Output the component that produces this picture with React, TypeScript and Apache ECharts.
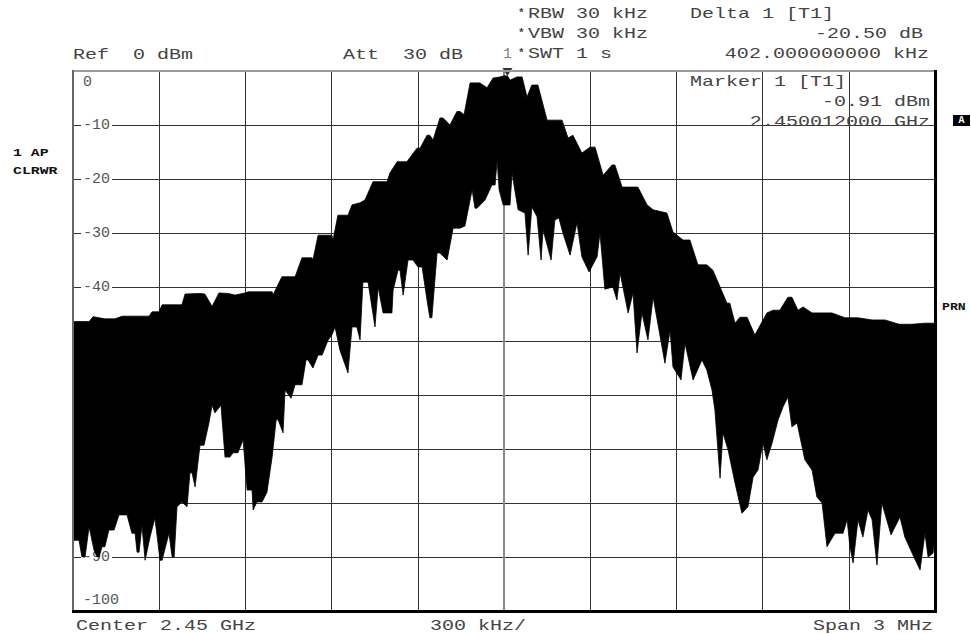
import React, { useEffect, useRef } from "react";
import * as echarts from "echarts";

// Spectrum envelope: frequency offset from 2.45 GHz (kHz) and level (dBm)
const upperFreq = [
  -1500, -1490, -1444, -1430, -1389, -1354, -1329, -1235, -1225, -1201, -1190, -1121, -1110, -1058, -1041, -1016,
  -992, -960, -936, -901, -891, -807, -804, -773, -727, -703, -668, -665, -647, -599, -595, -578, -543, -529, -501,
  -484, -456, -407, -397, -372, -338, -303, -292, -268, -258, -247, -223, -212, -188, -164, -153, -139, -118, -84,
  -59, -38, -14, 0, 12, 21, 45, 63, 80, 97, 118, 150, 202, 223, 240, 271, 299, 317, 345, 376, 386, 411, 466, 498,
  519, 567, 588, 623, 647, 675, 706, 727, 752, 776, 786, 804, 821, 846, 873, 915, 936, 960, 988, 1002, 1023, 1041,
  1072, 1141, 1187, 1232, 1281, 1326, 1375, 1420, 1465, 1500,
];
const upperLevel = [
  -46.4, -46.4, -46.4, -45.5, -45.9, -45.9, -45.4, -45.4, -44.6, -44.6, -43.3, -43.3, -41.3, -41.2, -41.3, -43.6,
  -41.1, -41.2, -41.5, -41.1, -40.9, -40.9, -41.5, -38.1, -38.1, -34.6, -34.6, -35.0, -30.4, -30.4, -31.3, -26.7,
  -26.7, -24.8, -24.4, -23.9, -20.5, -20.5, -18.9, -16.8, -16.8, -14.3, -14.3, -11.9, -11.9, -12.8, -8.7, -8.7,
  -10.0, -7.5, -7.5, -8.1, -2.2, -2.2, -3.1, -1.3, -1.1, -0.9, -0.91, -1.7, -1.1, -1.1, -4.8, -2.6, -2.6, -9.1,
  -9.1, -12.4, -11.9, -15.2, -14.1, -14.1, -19.3, -17.4, -17.4, -21.5, -21.5, -24.8, -25.7, -26.3, -29.8, -31.3,
  -31.3, -35.9, -35.9, -36.9, -40.0, -43.0, -43.0, -46.7, -45.6, -45.6, -48.9, -44.8, -44.3, -44.3, -41.9, -41.9,
  -44.3, -43.7, -44.8, -44.8, -45.7, -45.7, -46.1, -46.1, -46.9, -46.9, -46.7, -46.7,
];
const lowerFreq = [
  -1500, -1479, -1469, -1458, -1444, -1427, -1416, -1409, -1399, -1389, -1375, -1357, -1340, -1312, -1295, -1284,
  -1277, -1270, -1260, -1249, -1232, -1215, -1197, -1190, -1166, -1155, -1148, -1138, -1121, -1103, -1093, -1086,
  -1075, -1058, -1044, -1027, -1016, -1006, -985, -971, -954, -943, -926, -908, -894, -877, -873, -860, -842, -825,
  -807, -793, -786, -769, -762, -741, -727, -703, -689, -682, -665, -647, -633, -612, -599, -588, -571, -543, -529,
  -512, -501, -491, -473, -449, -438, -421, -390, -386, -369, -362, -351, -334, -317, -299, -285, -268, -258, -251,
  -233, -223, -198, -177, -153, -136, -111, -101, -94, -66, -42, -31, -24, -17, -3, 21, 28, 49, 73, 84, 97, 115,
  129, 136, 164, 177, 191, 205, 230, 254, 271, 296, 324, 334, 351, 379, 393, 404, 432, 449, 463, 480, 501, 519, 560,
  578, 588, 616, 630, 658, 689, 706, 724, 734, 752, 762, 780, 804, 828, 849, 867, 884, 901, 915, 933, 954, 971, 988,
  1002, 1020, 1047, 1072, 1089, 1107, 1124, 1152, 1180, 1194, 1204, 1215, 1232, 1249, 1267, 1281, 1298, 1315, 1347,
  1378, 1395, 1423, 1448, 1465, 1476, 1493, 1500,
];
const lowerLevel = [
  -86.9, -86.9, -90.0, -90.0, -84.4, -88.7, -90.0, -90.0, -88.1, -88.1, -85.0, -85.0, -82.2, -82.2, -85.6, -85.6,
  -89.1, -89.1, -84.1, -90.6, -86.3, -82.8, -90.6, -90.6, -85.6, -90.0, -90.0, -80.7, -79.8, -80.7, -74.4, -74.4,
  -77.0, -69.3, -69.3, -65.2, -61.9, -63.3, -61.9, -71.5, -71.5, -70.7, -70.7, -68.3, -77.6, -77.6, -81.3, -79.8,
  -79.8, -78.0, -71.5, -64.6, -64.6, -67.0, -59.1, -60.6, -58.1, -58.1, -53.5, -53.5, -55.0, -52.6, -52.6, -49.8,
  -48.9, -47.4, -51.7, -55.9, -47.4, -47.4, -49.8, -39.1, -39.1, -47.4, -40.0, -44.8, -44.8, -40.6, -36.9, -36.9,
  -41.5, -35.0, -35.0, -36.3, -36.3, -42.4, -45.7, -45.7, -33.7, -33.7, -35.0, -29.1, -29.1, -28.7, -22.0, -25.4,
  -25.4, -23.9, -21.1, -21.1, -16.5, -22.0, -24.8, -24.8, -18.9, -25.7, -26.3, -34.1, -25.2, -27.0, -35.0, -29.4,
  -35.0, -27.6, -27.2, -30.0, -34.1, -28.1, -34.4, -37.2, -34.4, -30.0, -40.4, -40.0, -42.4, -37.4, -44.8, -41.1,
  -52.2, -44.8, -49.8, -41.9, -54.1, -48.0, -54.8, -57.2, -50.4, -57.2, -53.5, -55.4, -59.1, -62.8, -75.4, -67.0,
  -70.2, -76.3, -81.9, -80.7, -75.2, -73.9, -68.9, -72.0, -68.9, -64.6, -62.2, -60.4, -65.9, -65.2, -72.0, -73.9,
  -78.9, -80.0, -88.1, -85.6, -85.6, -83.1, -88.1, -91.1, -83.1, -86.3, -81.3, -83.1, -91.5, -80.0, -85.9, -82.6,
  -86.3, -89.6, -92.4, -85.6, -90.0, -89.3, -86.3,
];

// Markers
const markerFreq = [12, 402];
const markerLevel = [-0.91, -21.41];
const markerNames = ["1", "1"];

// Axes
const freqMin = -1500;
const freqMax = 1500;
const freqStep = 300;
const levelMin = -100;
const levelMax = 0;
const levelStep = 10;

const FONT = '"Liberation Mono", "DejaVu Sans Mono", monospace';

function txt(text: string, x: number, y: number, align = "left", opts: any = {}) {
  return {
    type: "text",
    x,
    y,
    scaleX: opts.scaleX ?? 1.43,
    z: 100,
    silent: true,
    style: {
      text,
      fill: opts.fill ?? "#444",
      font: opts.font ?? `14px ${FONT}`,
      textAlign: align,
      textVerticalAlign: "middle",
    },
  };
}

function line(x1: number, y1: number, x2: number, y2: number, color: string, w: number) {
  return {
    type: "line",
    z: 90,
    silent: true,
    shape: { x1, y1, x2, y2 },
    style: { stroke: color, lineWidth: w },
  };
}

export default function App() {
  const ref = useRef<HTMLDivElement>(null);
  useEffect(() => {
    if (!ref.current) return;
    const chart = echarts.init(ref.current, null, { renderer: "svg" });
    const boldSmall = `bold 11px ${FONT}`;
    const option: any = {
      animation: false,
      backgroundColor: "#fff",
      grid: { left: 73, top: 71, width: 862, height: 540, show: false },
      xAxis: {
        type: "value",
        min: freqMin,
        max: freqMax,
        interval: freqStep,
        axisLine: { show: false },
        axisTick: { show: false },
        axisLabel: { show: false },
        splitLine: { show: true, lineStyle: { color: "#333", width: 1 } },
      },
      yAxis: [
        {
          type: "value",
          min: levelMin,
          max: levelMax,
          interval: levelStep,
          z: 0,
          axisLine: { show: false },
          axisTick: { show: false },
          axisLabel: { show: false },
          splitLine: { show: true, lineStyle: { color: "#333", width: 1 } },
        },
        {
          type: "value",
          min: levelMin,
          max: levelMax,
          interval: levelStep,
          position: "left",
          z: 1,
          axisLine: { show: false },
          axisTick: { show: false },
          splitLine: { show: false },
          axisLabel: {
            inside: true,
            margin: 8,
            color: "#555",
            fontFamily: FONT,
            fontSize: 15,
            lineHeight: 22,
            backgroundColor: "#fff",
            padding: [0, 2, 0, 2],
            verticalAlignMaxLabel: "top",
            verticalAlignMinLabel: "bottom",
            formatter: (v: number) => String(v),
          },
        },
      ],
      series: [
        {
          type: "line",
          data: [],
          z: 1,
          silent: true,
          markLine: {
            silent: true,
            z: 1,
            symbol: "none",
            label: { show: false },
            lineStyle: { color: "#888", width: 2, type: "solid" },
            data: [{ xAxis: 0 }],
          },
        },
        {
          type: "custom",
          coordinateSystem: "cartesian2d",
          xAxisIndex: 0,
          yAxisIndex: 0,
          z: 3,
          silent: true,
          clip: true,
          data: [[0, 0]],
          renderItem: (_params: any, api: any) => {
            const pts: number[][] = [];
            for (let i = 0; i < upperFreq.length; i++) pts.push(api.coord([upperFreq[i], upperLevel[i]]));
            for (let i = lowerFreq.length - 1; i >= 0; i--) pts.push(api.coord([lowerFreq[i], lowerLevel[i]]));
            return {
              type: "polygon",
              shape: { points: pts },
              style: { fill: "#000", stroke: "#000", lineWidth: 0.8 },
            };
          },
        },
        {
          type: "scatter",
          z: 5,
          silent: true,
          data: [
            {
              value: [markerFreq[0], markerLevel[0]],
              name: markerNames[0],
              symbol: "triangle",
              symbolRotate: 180,
              symbolSize: [10, 8],
              symbolOffset: [0, -4],
              itemStyle: { color: "#000" },
              label: { show: true, position: "top", distance: 7, formatter: markerNames[0] },
            },
            {
              value: [markerFreq[1], markerLevel[1]],
              name: markerNames[1],
              symbolSize: 2,
              itemStyle: { color: "#000", opacity: 0 },
              label: { show: true, position: "inside", offset: [4, -15], formatter: markerNames[1] },
            },
          ],
          label: { color: "#555", fontFamily: FONT, fontSize: 14 },
        },
      ],
      graphic: {
        elements: [
          // frame
          line(72, 71, 936, 71, "#9a9a9a", 2),
          line(73, 70, 73, 612, "#666", 2),
          line(72, 611.5, 937, 611.5, "#000", 3),
          line(935.5, 70, 935.5, 613, "#000", 3),
          // header
          txt("*", 518, 13, "left", { font: `bold 11px ${FONT}`, scaleX: 1 }),
          txt("RBW 30 kHz", 528, 14),
          txt("*", 518, 33, "left", { font: `bold 11px ${FONT}`, scaleX: 1 }),
          txt("VBW 30 kHz", 528, 34),
          txt("*", 518, 53, "left", { font: `bold 11px ${FONT}`, scaleX: 1 }),
          txt("SWT 1 s", 528, 54),
          txt("Delta 1 [T1]", 690, 14),
          txt("-20.50 dB", 923, 34, "right"),
          txt("402.000000000 kHz", 929, 54, "right"),
          txt("Ref  0 dBm", 73, 55),
          txt("Att  30 dB", 343, 55),
          txt("Marker 1 [T1]", 690, 82),
          txt("-0.91 dBm", 930, 102, "right"),
          txt("2.450012000 GHz", 930, 122, "right"),
          // footer
          txt("Center 2.45 GHz", 76, 626),
          txt("300 kHz/", 430, 626),
          txt("Span 3 MHz", 933, 626, "right"),
          // side annotations
          txt("1 AP", 13, 153, "left", { font: boldSmall, scaleX: 1.35, fill: "#111" }),
          txt("CLRWR", 13, 171, "left", { font: boldSmall, scaleX: 1.35, fill: "#111" }),
          txt("PRN", 942, 307, "left", { font: boldSmall, scaleX: 1.2, fill: "#111" }),
          {
            type: "rect",
            z: 100,
            silent: true,
            shape: { x: 953, y: 115, width: 17, height: 11 },
            style: { fill: "#000" },
          },
          txt("A", 961.5, 120.5, "center", { font: `bold 10px ${FONT}`, scaleX: 1, fill: "#fff" }),
        ],
      },
    };
    chart.setOption(option);
    return () => chart.dispose();
  }, []);
  return (
    <div
      ref={ref}
      style={{ position: "fixed", left: 0, top: 0, width: 971, height: 634, background: "#fff" }}
    />
  );
}
